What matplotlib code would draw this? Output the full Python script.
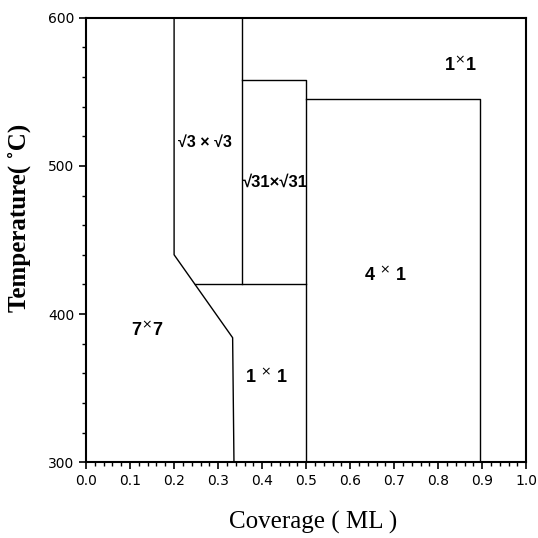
import matplotlib
matplotlib.use("Agg")
import matplotlib.pyplot as plt
from matplotlib.ticker import MultipleLocator

# phase boundaries (coverage in ML, temperature in C)
b_7x7_x = [0.20, 0.20, 0.333, 0.336]
b_7x7_y = [600, 440, 384, 301]
b_420_x = [0.248, 0.50]
b_420_y = [420, 420]
b_sqrt31_x = [0.355, 0.355]
b_sqrt31_y = [600, 420]
b_sqrt31_top_x = [0.355, 0.50, 0.50]
b_sqrt31_top_y = [558, 558, 300]
b_4x1_x = [0.50, 0.895, 0.895]
b_4x1_y = [545, 545, 300]

boundaries = [
    (b_7x7_x, b_7x7_y),
    (b_420_x, b_420_y),
    (b_sqrt31_x, b_sqrt31_y),
    (b_sqrt31_top_x, b_sqrt31_top_y),
    (b_4x1_x, b_4x1_y),
]

phase_labels = ["7$^{\\times}$7", "1 $^{\\times}$ 1", "4 $^{\\times}$ 1", "1$^{\\times}$1"]
label_x = [0.14, 0.41, 0.68, 0.85]
label_y = [389, 357, 426, 568]
root_labels = ["\u221a3 \u00d7 \u221a3", "\u221a31\u00d7\u221a31"]
root_x = [0.27, 0.43]
root_y = [516, 489]
root_size = [11.5, 12]

x_ticks = [0.0, 0.1, 0.2, 0.3, 0.4, 0.5, 0.6, 0.7, 0.8, 0.9, 1.0]
y_ticks = [300, 400, 500, 600]

plt.rcParams["mathtext.fontset"] = "dejavusans"
plt.rcParams["font.family"] = ["DejaVu Sans"]

fig = plt.figure(figsize=(5.38, 5.38), dpi=100)
ax = fig.add_axes([0.16, 0.141, 0.818, 0.826])

for bx, by in boundaries:
    ax.plot(bx, by, color="black", lw=1.0)

for txt, lx, ly in zip(phase_labels, label_x, label_y):
    ax.text(lx, ly, txt, ha="center", va="center", fontsize=13,
            fontweight="bold", family=["Liberation Sans", "DejaVu Sans"])
for txt, lx, ly, fs in zip(root_labels, root_x, root_y, root_size):
    ax.text(lx, ly, txt, ha="center", va="center", fontsize=fs,
            fontweight="bold", family=["Liberation Sans", "DejaVu Sans"])

ax.set_xlim(0, 1.0)
ax.set_ylim(300, 600)
ax.set_xticks(x_ticks)
ax.set_xticklabels([f"{v:.1f}" for v in x_ticks])
ax.set_yticks(y_ticks)
ax.xaxis.set_minor_locator(MultipleLocator(0.02))
ax.yaxis.set_minor_locator(MultipleLocator(20))
ax.tick_params(which="major", direction="out", length=5, width=1.2, labelsize=10)
ax.tick_params(which="minor", direction="out", length=3, width=1.0)
for s in ax.spines.values():
    s.set_linewidth(1.5)

ax.set_xlabel("Coverage ( ML )", family="Liberation Serif", fontsize=18)
ax.xaxis.set_label_coords(0.516, -0.11)
ax.set_ylabel("Temperature( \u02daC)", family="Liberation Serif", fontsize=18,
              fontweight="bold")
ax.yaxis.set_label_coords(-0.125, 0.55)

fig.savefig("out.png", dpi=100)
